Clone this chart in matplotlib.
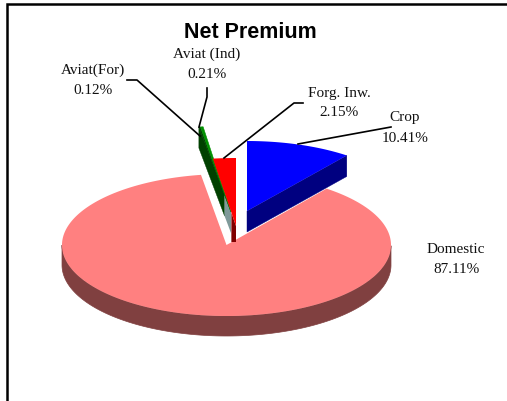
import numpy as np
import matplotlib
matplotlib.use('Agg')
import matplotlib.pyplot as plt
from matplotlib.patches import Polygon

labels = ['Crop', 'Domestic', 'Aviat(For)', 'Aviat (Ind)', 'Forg. Inw.']
values = [10.41, 87.11, 0.12, 0.21, 2.15]
top_colors = ['#0000ff', '#ff8080', '#004000', '#009000', '#ff0000']
side_colors = ['#000080', '#804040', '#004000', '#004000', '#800000']

# placement of each exploded slice in pixels: apex x, apex y, radius x, radius y
placement = [(247, 212, 164, 70), (226.5, 246, 164.5, 71), (231, 213, 207, 86),
             (231, 213, 207, 86), (236, 227, 172, 68)]
depth = [21, 20, 21, 21, 16]

label_xy = [(405, 128), (456, 260), (93, 80), (207, 64), (339, 103)]
leaders = [[(391, 128), (298, 145)],
           [(127, 81), (137, 81), (200, 137)],
           [(207, 89), (207, 98), (199, 128)],
           [(303, 104), (294, 104), (224, 159)]]

plt.rcParams['font.family'] = ['Liberation Serif', 'DejaVu Serif']
fig = plt.figure(figsize=(5.07, 4.02), dpi=100)
ax = fig.add_axes([0, 0, 1, 1])
ax.set_xlim(0, 507)
ax.set_ylim(402, 0)
ax.axis('off')

ax.plot([7, 7, 507], [402, 5, 5], color='black', lw=1.8, solid_joinstyle='miter')
ax.text(250, 32, 'Net Premium', family='Liberation Sans', weight='bold',
        fontsize=15.5, ha='center', va='center')


def rim(p, a0, a1):
    t = np.linspace(a0, a1, max(int(abs(a1 - a0)), 2) + 1)
    r = np.radians(t)
    return t, p[0] + p[2] * np.sin(r), p[1] - p[3] * np.cos(r)


ends = np.cumsum(values) / sum(values) * 360
starts = ends - np.array(values) / sum(values) * 360

# Domestic first, it sits behind everything else
p = placement[1]
t, x, y = rim(p, starts[1], ends[1])
front = np.cos(np.radians(t)) < 0
ax.add_patch(Polygon(np.r_[np.c_[x[front], y[front]],
                           np.c_[x[front], y[front] + depth[1]][::-1]],
                     fc=side_colors[1], ec=side_colors[1], lw=0.5))
ax.add_patch(Polygon(np.r_[[p[:2]], np.c_[x, y]], fc=top_colors[1], ec='none'))

# thin aviation slices: left cut face, darker part then the grey part near the apex
p = placement[2]
t, x, y = rim(p, starts[2], ends[3])
d = depth[2]
split = 0.8
mx, my = x[0] + (p[0] - x[0]) * split, y[0] + (p[1] - y[0]) * split
ax.add_patch(Polygon([(x[0], y[0]), (x[0], y[0] + d), (mx, my + d), (mx, my)],
                     fc=side_colors[2], ec=side_colors[2], lw=0.3))
ax.add_patch(Polygon([(mx, my), (mx, my + d), (p[0], p[1] + d), (p[0], p[1])],
                     fc='#7f9a9a', ec='none'))
for i in [2, 3]:
    t, x, y = rim(placement[i], starts[i], ends[i])
    ax.add_patch(Polygon(np.r_[[placement[i][:2]], np.c_[x, y]],
                         fc=top_colors[i], ec=top_colors[i], lw=0.4))

# Forg. Inw.: only the bit of its cut face next to the apex shows
p = placement[4]
t, x, y = rim(p, starts[4], ends[4])
d = depth[4]
mx, my = p[0] + (x[0] - p[0]) * 0.2, p[1] + (y[0] - p[1]) * 0.2
ax.add_patch(Polygon([(p[0], p[1]), (mx, my), (mx, p[1] + d), (p[0], p[1] + d)],
                     fc=side_colors[4], ec='none'))
ax.add_patch(Polygon(np.r_[[p[:2]], np.c_[x, y]], fc=top_colors[4], ec='none'))

# Crop: right cut face
p = placement[0]
t, x, y = rim(p, starts[0], ends[0])
d = depth[0]
ax.add_patch(Polygon([p[:2], (x[-1], y[-1]), (x[-1], y[-1] + d), (p[0], p[1] + d)],
                     fc=side_colors[0], ec=side_colors[0], lw=0.3))
ax.add_patch(Polygon(np.r_[[p[:2]], np.c_[x, y]], fc=top_colors[0], ec='none'))

for pts in leaders:
    ax.plot(*zip(*pts), color='black', lw=1.2, solid_joinstyle='round')

for name, v, (lx, ly) in zip(labels, values, label_xy):
    ax.text(lx, ly, f'{name}\n{v:.2f}%', fontsize=11, ha='center', va='center',
            linespacing=1.7, color='#111111')

fig.savefig('out.png', dpi=100)
